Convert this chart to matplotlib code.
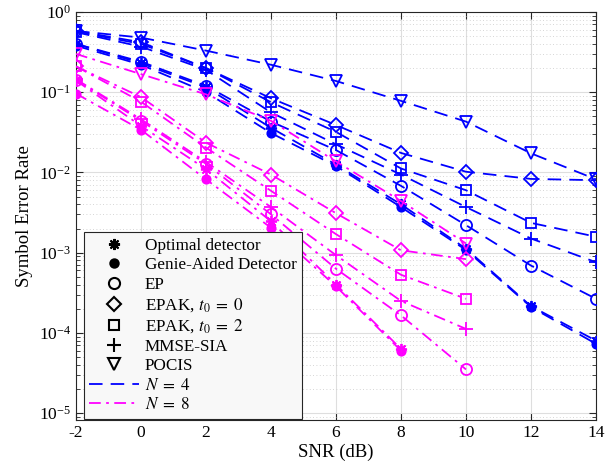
import matplotlib
matplotlib.use("Agg")
import matplotlib.pyplot as plt
from matplotlib.lines import Line2D
from matplotlib.ticker import LogLocator, NullFormatter, FixedLocator

snr = [-2, 0, 2, 4, 6, 8, 10, 12, 14]

# N = 4
n4_opt   = [0.40, 0.23, 0.115, 0.036, 0.0125, 0.0040, 0.00112, 0.000215, 8.0e-5]
n4_genie = [0.38, 0.22, 0.100, 0.031, 0.0120, 0.0037, 0.00108, 0.000210, 7.3e-5]
n4_ep    = [0.40, 0.24, 0.120, 0.043, 0.0190, 0.0068, 0.0022, 0.00069, 0.000266]
n4_epak0 = [0.58, 0.42, 0.200, 0.084, 0.0390, 0.0175, 0.0102, 0.0083, 0.0080]
n4_epak2 = [0.57, 0.40, 0.200, 0.075, 0.0320, 0.0112, 0.0060, 0.00235, 0.00158]
n4_mmse  = [0.56, 0.37, 0.190, 0.056, 0.0224, 0.0094, 0.0037, 0.00150, 0.00076]
n4_pocis = [0.58, 0.48, 0.330, 0.220, 0.1380, 0.0780, 0.0430, 0.0173, 0.0082]

# N = 8
n8_opt   = [0.140, 0.038, 0.0110, 0.00246, 0.00040, 6.3e-5]
n8_genie = [0.096, 0.034, 0.0082, 0.00204, 0.00038, 6.0e-5]
n8_ep    = [0.143, 0.044, 0.0128, 0.0030, 0.00063, 0.000165, 3.5e-5]
n8_epak0 = [0.210, 0.087, 0.0235, 0.0094, 0.0031, 0.00107, 0.00083]
n8_epak2 = [0.210, 0.076, 0.0204, 0.0059, 0.0017, 0.00053, 0.000266]
n8_mmse  = [0.145, 0.046, 0.0135, 0.0037, 0.00093, 0.00025, 0.000112]
n8_pocis = [0.300, 0.168, 0.094, 0.044, 0.0137, 0.0044, 0.0013]

labels = ["Optimal detector", "Genie-Aided Detector", "EP", r"EPAK, $t_0\;=\;0$",
          r"EPAK, $t_0\;=\;2$", "MMSE-SIA", "POCIS"]
xticks = [-2, 0, 2, 4, 6, 8, 10, 12, 14]

plt.rcParams['font.family'] = ['Liberation Serif', 'DejaVu Serif']
plt.rcParams['mathtext.fontset'] = 'stix'

BLUE = '#0000ff'
MAG = '#ff00ff'
DASH = (0, (7.5, 4.5))
DASHDOT = (0, (6.5, 3, 1.5, 3))
AST = (8, 2, 0)
markers = [AST, 'o', 'o', 'D', 's', '+', 'v']
msizes = [8, 6, 8, 7, 7, 10, 9]
filled = [True, True, False, False, False, False, False]

fig = plt.figure(figsize=(6.16, 4.73), dpi=100)
ax = fig.add_axes([76/616, 1-420/473, (596-76)/616, (420-12)/473])

n4 = [n4_opt, n4_genie, n4_ep, n4_epak0, n4_epak2, n4_mmse, n4_pocis]
n8 = [n8_opt, n8_genie, n8_ep, n8_epak0, n8_epak2, n8_mmse, n8_pocis]

for data, color, ls in [(n4, BLUE, DASH), (n8, MAG, DASHDOT)]:
    for i, y in enumerate(data):
        x = snr[:len(y)]
        ax.plot(x, y, linestyle=ls, color=color, lw=1.3,
                marker=markers[i], ms=msizes[i],
                mfc=color if filled[i] else 'none', mec=color, mew=1.3, zorder=3)

ax.set_yscale('log')
ax.set_xlim(-2, 14)
ax.set_ylim(8.2e-6, 1)
ax.set_xticks(xticks)
ax.set_xticklabels([str(t) for t in xticks])
ax.yaxis.set_major_locator(FixedLocator([1e-5, 1e-4, 1e-3, 1e-2, 1e-1, 1]))
ax.yaxis.set_minor_locator(LogLocator(base=10, subs=range(2, 10), numticks=20))
ax.yaxis.set_minor_formatter(NullFormatter())

ax.grid(True, which='major', color='#dedede', lw=0.8, zorder=0)
ax.grid(True, which='minor', axis='y', color='#c8c8c8', lw=0.6, ls=(0, (1, 3)), zorder=0)
ax.xaxis.set_minor_locator(FixedLocator([]))
ax.set_axisbelow(True)
ax.tick_params(which='both', direction='in', top=True, right=True, labelsize=12.5,
               color='#262626')
ax.tick_params(which='major', length=5)
ax.tick_params(which='minor', length=3)
for s in ax.spines.values():
    s.set_color('#262626')
    s.set_linewidth(0.8)

ax.set_xlabel('SNR (dB)', fontsize=13.5, labelpad=2)
ax.set_ylabel('Symbol Error Rate', fontsize=13.5, labelpad=4)

handles = []
for i in range(7):
    handles.append(Line2D([], [], linestyle='none', color='k', marker=markers[i],
                          ms=msizes[i], mfc='k' if filled[i] else 'none', mec='k', mew=1.5))
handles.append(Line2D([], [], color=BLUE, ls=DASH, lw=1.3))
handles.append(Line2D([], [], color=MAG, ls=DASHDOT, lw=1.3))
leg_labels = labels + ['$N\\;=\\;4$', '$N\\;=\\;8$']
leg = ax.legend(handles, leg_labels, loc='lower left', bbox_to_anchor=(0.012, 0.0),
                borderaxespad=0.08,
                fontsize=12.3, frameon=True, fancybox=False, framealpha=1,
                edgecolor='#262626', facecolor='#f8f8f8', handlelength=2.9,
                labelspacing=0.2, borderpad=0.33, handletextpad=0.35)
leg.get_frame().set_linewidth(0.8)

fig.savefig('out.png', dpi=100)
